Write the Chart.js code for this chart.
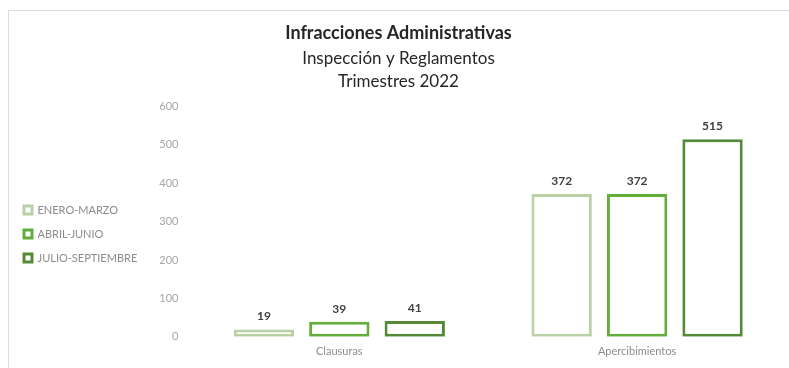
<!DOCTYPE html>
<html>
<head>
<meta charset="utf-8">
<script src="https://cdn.jsdelivr.net/npm/chart.js@4.4.1/dist/chart.umd.min.js"></script>
<style>
  html, body { margin: 0; padding: 0; background: #fff; }
  #frame { position: absolute; left: 8px; top: 10px; width: 800px; height: 400px; border: 1px solid #dcdcdc; }
  #wrap { position: absolute; left: 0; top: 0; width: 789px; height: 368px; }
</style>
</head>
<body>
<div id="frame"></div>
<div id="wrap"><canvas id="chart" width="789" height="368"></canvas></div>
<script>
const categories = ['Clausuras', 'Apercibimientos'];
const seriesNames = ['ENERO-MARZO', 'ABRIL-JUNIO', 'JULIO-SEPTIEMBRE'];
const eneroMarzo = [19, 372];
const abrilJunio = [39, 372];
const julioSeptiembre = [41, 515];
const yTicks = [0, 100, 200, 300, 400, 500, 600];

const colors = ['#b9d0a5', '#63ae3b', '#548a35'];
const fontFamily = "'Liberation Sans Narrow', Lato, sans-serif";

// Draw value labels above each bar
const valueLabels = {
  id: 'valueLabels',
  afterDatasetsDraw(chart) {
    const ctx = chart.ctx;
    ctx.save();
    ctx.font = 'bold 12px ' + fontFamily;
    ctx.fillStyle = '#404040';
    ctx.textAlign = 'center';
    ctx.textBaseline = 'bottom';
    chart.data.datasets.forEach((ds, i) => {
      chart.getDatasetMeta(i).data.forEach((bar, j) => {
        ctx.fillText(ds.data[j], bar.x, bar.y - 7);
      });
    });
    ctx.restore();
  }
};

// Push the legend down next to the lower half of the axis, like the original
const legendOffset = {
  id: 'legendOffset',
  afterLayout(chart) {
    const lg = chart.legend;
    if (lg) { lg.top += 43; lg.bottom += 43; }
  }
};

const seriesData = [eneroMarzo, abrilJunio, julioSeptiembre];

new Chart(document.getElementById('chart'), {
  type: 'bar',
  data: {
    labels: categories,
    datasets: seriesNames.map((name, i) => ({
      label: name,
      data: seriesData[i],
      backgroundColor: '#ffffff',
      borderColor: colors[i],
      borderWidth: 3,
      borderSkipped: false,
      categoryPercentage: 0.76,
      barPercentage: 0.8
    }))
  },
  options: {
    responsive: false,
    animation: false,
    layout: { padding: { left: 11, right: 3, top: 16, bottom: 2 } },
    plugins: {
      title: {
        display: true,
        text: 'Infracciones Administrativas',
        color: '#262626',
        font: { family: fontFamily, size: 18, weight: 'bold' },
        padding: { top: 6, bottom: 3 }
      },
      subtitle: {
        display: true,
        text: ['Inspección y Reglamentos', 'Trimestres 2022'],
        color: '#262626',
        font: { family: fontFamily, size: 17, lineHeight: 1.35 },
        padding: { top: 0, bottom: 14 }
      },
      legend: {
        position: 'left',
        align: 'center',
        labels: {
          color: '#8c8c8c',
          boxWidth: 8,
          boxHeight: 8,
          padding: 13,
          font: { family: fontFamily, size: 11 }
        }
      },
      tooltip: { enabled: false }
    },
    scales: {
      x: {
        grid: { display: false, drawTicks: false },
        border: { display: false },
        ticks: { color: '#8c8c8c', font: { family: fontFamily, size: 11 }, padding: 8 }
      },
      y: {
        min: 0,
        max: 600,
        afterBuildTicks(axis) { axis.ticks = yTicks.map(v => ({ value: v })); },
        grid: { display: false, drawTicks: false },
        border: { display: false },
        ticks: { color: '#a6a6a6', font: { family: fontFamily, size: 11 }, padding: 12 }
      }
    }
  },
  plugins: [valueLabels, legendOffset]
});
</script>
</body>
</html>
